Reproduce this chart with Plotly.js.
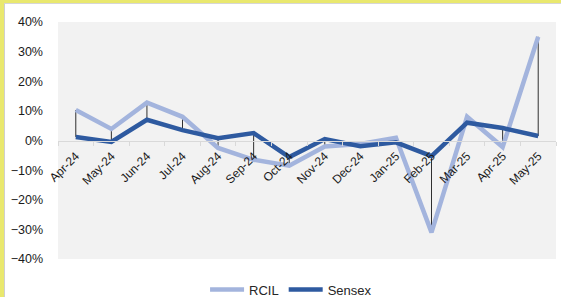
<!DOCTYPE html>
<html>
<head>
<meta charset="utf-8">
<script src="https://cdn.plot.ly/plotly-3.0.1.min.js"></script>
<style>
html,body{margin:0;padding:0;background:#e9e86e;width:561px;height:297px;overflow:hidden;}
#wrap{position:absolute;left:4px;top:3px;width:557px;height:294px;background:#fff;border-left:1px solid #cfcfcf;border-top:1px solid #d6d6d6;}
#chart{width:556px;height:293px;}
</style>
</head>
<body>
<div id="wrap"><div id="chart"></div></div>
<script>
const months = ["Apr-24","May-24","Jun-24","Jul-24","Aug-24","Sep-24","Oct-24","Nov-24","Dec-24","Jan-25","Feb-25","Mar-25","Apr-25","May-25"];
const rcil   = [0.103, 0.039, 0.128, 0.080, -0.025, -0.065, -0.085, -0.020, -0.012, 0.009, -0.310, 0.080, -0.022, 0.350];
const sensex = [0.012, -0.005, 0.070, 0.035, 0.008, 0.025, -0.056, 0.005, -0.019, -0.006, -0.053, 0.060, 0.042, 0.015];
const yTicks = [-0.4,-0.3,-0.2,-0.1,0,0.1,0.2,0.3,0.4];

// high-low connector lines built from the data
const hlX = [], hlY = [];
months.forEach((m,i)=>{ hlX.push(m,m,null); hlY.push(rcil[i],sensex[i],null); });

const traces = [
  {x: hlX, y: hlY, mode:'lines', line:{color:'#1a1a1a', width:0.9}, showlegend:false, hoverinfo:'skip'},
  {x: months, y: rcil, name:'RCIL', mode:'lines', line:{color:'#a3b4dd', width:4.5}},
  {x: months, y: sensex, name:'Sensex', mode:'lines', line:{color:'#2e5aa0', width:4.5}}
];

const layout = {
  width:556, height:293,
  margin:{l:53, r:5, t:18, b:38, autoexpand:false},
  paper_bgcolor:'#ffffff',
  plot_bgcolor:'#f2f2f2',
  font:{family:'"Liberation Sans", Arial, sans-serif', size:12, color:'#262626'},
  xaxis:{
    type:'category', range:[-0.5,13.5], anchor:'free', position:0.5,
    tickangle:-45, showgrid:false, zeroline:false, automargin:false,
    showline:true, linecolor:'#d9d9d9', linewidth:1,
    ticks:'outside', tickson:'boundaries', ticklen:4, tickcolor:'#d9d9d9',
    tickfont:{size:12, color:'#1a1a1a'}, ticklabelstandoff:3, fixedrange:true
  },
  yaxis:{
    range:[-0.4,0.4], tickvals:yTicks, tickformat:'.0%', automargin:false,
    showgrid:false, zeroline:false, showline:false,
    tickfont:{size:12.5, color:'#1a1a1a'}, ticks:'', ticklabelstandoff:14
  },
  legend:{orientation:'h', x:0.468, xanchor:'center', yref:'container', y:0.025, yanchor:'middle',
    font:{size:13, color:'#262626'}, itemwidth:34, bgcolor:'rgba(0,0,0,0)'},
  showlegend:true
};

Plotly.newPlot('chart', traces, layout, {displayModeBar:false, staticPlot:true});
</script>
</body>
</html>
